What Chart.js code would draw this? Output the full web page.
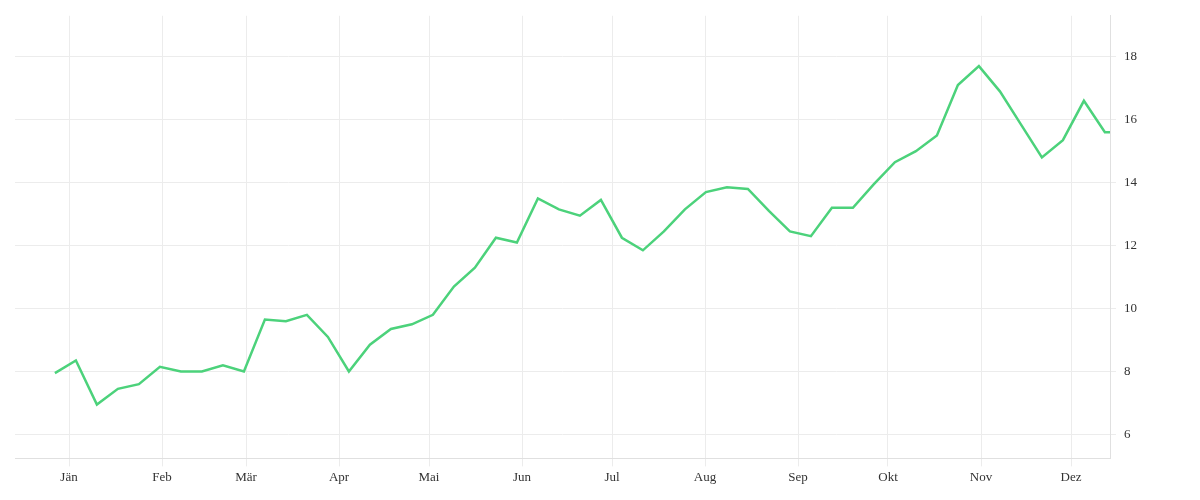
<!DOCTYPE html>
<html>
<head>
<meta charset="utf-8">
<script src="https://cdn.jsdelivr.net/npm/chart.js@4"></script>
<style>
  html, body { margin: 0; padding: 0; background: #fff; }
  #wrap { width: 1200px; height: 500px; }
</style>
</head>
<body>
<div id="wrap"><canvas id="lineChart"></canvas></div>
<script>
// month labels and their position in days (Jän tick = day 0)
const monthLabels = ["Jän", "Feb", "Mär", "Apr", "Mai", "Jun", "Jul", "Aug", "Sep", "Okt", "Nov", "Dez"];
const monthDays = [0, 31, 59, 90, 120, 151, 181, 212, 243, 273, 304, 334];
const yTicks = [6, 8, 10, 12, 14, 16, 18];

// weekly values
const firstDay = -4.7;
const values = [
  7.95, 8.35, 6.95, 7.45, 7.6, 8.15, 8.0, 8.0, 8.2, 8.0,
  9.65, 9.6, 9.8, 9.1, 8.0, 8.85, 9.35, 9.5, 9.8, 10.7,
  11.3, 12.25, 12.1, 13.5, 13.15, 12.95, 13.45, 12.25, 11.85, 12.45,
  13.15, 13.7, 13.85, 13.8, 13.1, 12.45, 12.3, 13.2, 13.2, 13.95,
  14.65, 15.0, 15.5, 17.1, 17.7, 16.9, 15.85, 14.8, 15.35, 16.6,
  15.6, 15.6
];

const points = values.map((v, i) => ({ x: firstDay + i * 7, y: v }));
const font = { family: "'Liberation Serif', serif", size: 13 };

new Chart(document.getElementById("lineChart").getContext("2d"), {
  type: 'line',
  data: {
    datasets: [{
      data: points,
      borderColor: '#4cd27b',
      borderWidth: 2.5,
      pointRadius: 0,
      tension: 0,
      fill: false
    }]
  },
  options: {
    responsive: true,
    maintainAspectRatio: false,
    animation: false,
    layout: { padding: { left: 15, top: 10, right: 55, bottom: 12 } },
    plugins: { legend: { display: false }, tooltip: { enabled: false } },
    scales: {
      x: {
        type: 'linear',
        min: -18,
        max: 347,
        afterBuildTicks: axis => { axis.ticks = monthDays.map(v => ({ value: v })); },
        ticks: {
          color: '#333',
          font: font,
          autoSkip: false,
          maxRotation: 0,
          callback: v => monthLabels[monthDays.indexOf(v)]
        },
        grid: { color: '#ececec', drawTicks: true, tickLength: 8 },
        border: { color: '#e0e0e0' }
      },
      y: {
        position: 'right',
        min: 5.24,
        max: 19.3,
        afterBuildTicks: axis => { axis.ticks = yTicks.map(v => ({ value: v })); },
        ticks: { color: '#333', font: font, padding: 8 },
        grid: { color: '#ececec', drawTicks: true, tickLength: 6 },
        border: { color: '#e0e0e0' }
      }
    }
  }
});
</script>
</body>
</html>
